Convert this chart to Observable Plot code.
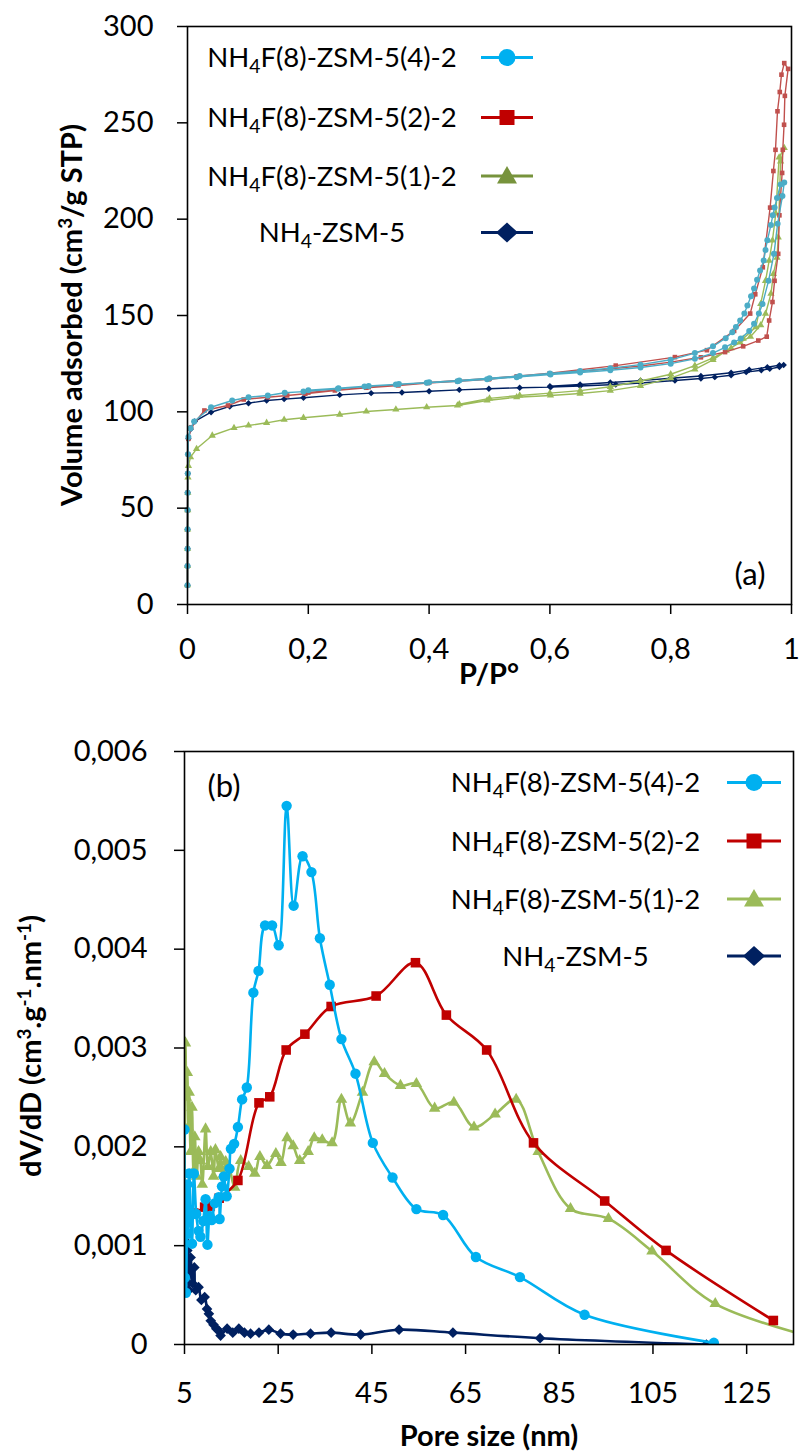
<!DOCTYPE html>
<html>
<head>
<meta charset="utf-8">
<script src="https://cdn.jsdelivr.net/npm/d3@7"></script>
<script src="https://cdn.jsdelivr.net/npm/@observablehq/plot@0.6"></script>
<style>
  body { margin: 0; background: #fff; }
  #page { position: relative; width: 802px; height: 1456px; background: #fff; overflow: hidden; }
  #page > svg { position: absolute; left: 0; }
</style>
</head>
<body>
<div id="page"></div>
<script>
// ---------- (a) N2 isotherms: relative pressure P/P° and volume adsorbed (cm3/g STP) ----------
// each list runs along the adsorption branch, then back along the desorption branch
const isoP_s4 = [0, 0, 0.0001, 0.0001, 0.0002, 0.0003, 0.0005, 0.0008, 0.0015, 0.005, 0.011, 0.039, 0.074, 0.101, 0.133, 0.161, 0.192, 0.249, 0.293, 0.345, 0.396, 0.447, 0.496, 0.545, 0.601, 0.65, 0.70, 0.75, 0.80, 0.84, 0.87, 0.89, 0.905, 0.916, 0.93, 0.938, 0.946, 0.952, 0.962, 0.971, 0.977, 0.985, 0.988,
  0.982, 0.976, 0.972, 0.969, 0.966, 0.960, 0.957, 0.954, 0.948, 0.943, 0.938, 0.933, 0.927, 0.922, 0.915, 0.908, 0.902, 0.891, 0.87, 0.84, 0.80, 0.75, 0.70, 0.65, 0.60, 0.55, 0.50, 0.45, 0.40, 0.35, 0.30, 0.25, 0.20];
const isoV_s4 = [10, 20, 29, 39, 49, 58, 68, 78, 87, 91.5, 95, 102.4, 105.9, 107.6, 108.5, 109.9, 110.5, 112, 113.1, 114.2, 115.1, 115.9, 116.9, 118, 119.4, 120.4, 121.6, 123, 125, 127.5, 130.5, 133.5, 136, 138, 142, 145.7, 151, 156, 168, 182, 197.6, 212, 219,
  218, 211, 206, 202, 197, 189, 184, 178.5, 173.4, 168.5, 164, 160, 155.2, 151, 147.4, 144, 141.3, 138.2, 134, 130.5, 127, 124.5, 122.6, 121.2, 119.9, 118.6, 117.4, 116.3, 115.3, 114.4, 113.4, 112.3, 111.2];

const isoP_s2 = [0, 0, 0.0001, 0.0001, 0.0002, 0.0003, 0.0005, 0.0008, 0.0015, 0.006, 0.028, 0.067, 0.093, 0.133, 0.165, 0.195, 0.244, 0.296, 0.349, 0.398, 0.447, 0.499, 0.545, 0.60, 0.65, 0.70, 0.75, 0.80, 0.85, 0.89, 0.92, 0.945, 0.959, 0.963, 0.9685, 0.972, 0.978, 0.980, 0.982, 0.9845, 0.9856, 0.9877, 0.989, 0.9944,
  0.988, 0.9834, 0.9806, 0.9768, 0.9735, 0.970, 0.9646, 0.9525, 0.94, 0.9316, 0.905, 0.86, 0.807, 0.709, 0.60, 0.50, 0.40, 0.30, 0.20];
const isoV_s2 = [10, 20, 29, 39, 49, 58, 68, 78, 86, 92, 100.7, 103.3, 106.4, 107.6, 108.5, 109.4, 111.1, 112.5, 113.7, 114.9, 115.9, 116.9, 118.4, 119.7, 121, 122.3, 123.8, 125.8, 128.3, 131, 134, 137, 139, 147.4, 157, 168, 182, 202, 212, 224, 236, 249, 264, 278,
  281, 275, 266, 256, 236, 225, 206, 175, 161, 151, 142, 132, 128.4, 124, 120, 117.3, 115.2, 112.8, 110];

const isoP_s1 = [0, 0, 0.0001, 0.0002, 0.0003, 0.0005, 0.0008, 0.0015, 0.005, 0.015, 0.041, 0.077, 0.101, 0.131, 0.16, 0.192, 0.252, 0.296, 0.345, 0.396, 0.447, 0.496, 0.545, 0.601, 0.65, 0.70, 0.75, 0.80, 0.84, 0.87, 0.892, 0.915, 0.932, 0.949, 0.957, 0.966, 0.970, 0.976, 0.978, 0.980, 0.982, 0.988,
  0.9795, 0.974, 0.9685, 0.963, 0.957, 0.949, 0.941, 0.92, 0.90, 0.87, 0.84, 0.80, 0.75, 0.70, 0.65, 0.60, 0.55, 0.50, 0.45];
const isoV_s1 = [10, 20, 29, 39, 49, 58, 66, 72, 76.5, 80.8, 87.7, 91.7, 92.9, 94.3, 95.9, 96.9, 98.6, 100.2, 101.2, 102.4, 103.3, 105.9, 107.6, 108.5, 109.5, 111, 113.5, 117.5, 122, 127, 131.8, 136, 139, 145, 150.9, 161.3, 171.6, 180, 190.6, 211, 230, 237,
  232, 203, 189, 178.5, 168, 156, 144, 138, 133, 128, 124, 119.5, 116, 113, 111, 109.7, 108.5, 107, 104];

const isoP_par = [0, 0, 0.0001, 0.0001, 0.0002, 0.0003, 0.0005, 0.0008, 0.0015, 0.005, 0.012, 0.039, 0.07, 0.101, 0.131, 0.16, 0.192, 0.252, 0.304, 0.355, 0.40, 0.45, 0.499, 0.55, 0.601, 0.65, 0.709, 0.75, 0.807, 0.85, 0.873, 0.90, 0.925, 0.95, 0.964, 0.98, 0.987,
  0.98, 0.96, 0.93, 0.90, 0.85, 0.80, 0.75, 0.70, 0.65, 0.60];
const isoV_par = [10, 20, 29, 39, 49, 58, 68, 78, 86, 91, 95, 99.8, 102.8, 104.5, 105.9, 106.6, 107.3, 108.8, 109.7, 110, 110.7, 111.4, 112, 112.5, 112.8, 113.4, 114.2, 115, 116.3, 117.3, 118, 119, 120.6, 121.6, 122.3, 123.3, 124.3,
  124.2, 123.2, 121.8, 120.3, 118.6, 117.4, 116.2, 115.2, 114.2, 113.3];

// ---------- (b) pore size distributions: pore size (nm) and dV/dD ----------
const psdD_s4 = [5.0, 5.1, 5.3, 5.6, 5.8, 6.0, 6.3, 6.6, 7.0, 7.5, 8.0, 8.4, 9.0, 9.5, 9.9, 10.4, 10.8, 11.5, 12.3, 12.5, 13.0, 13.4, 14.0, 14.6, 14.9, 15.6, 16.4, 17.3, 18.3, 19.7, 20.8, 22.2, 23.7, 25.1, 26.8, 28.3, 30.2, 32.1, 33.9, 36.0, 38.5, 41.5, 45.2, 49.4, 54.5, 60.2, 67.2, 76.6, 90.4, 118.0];
const psdV_s4 = [0.002175, 0.000676, 0.000524, 0.00162, 0.00112, 0.00173, 0.00132, 0.00102, 0.00173, 0.00132, 0.00115, 0.00109, 0.00125, 0.00147, 0.00101, 0.00130, 0.00126, 0.00143, 0.00149, 0.00127, 0.00160, 0.00170, 0.00150, 0.00178, 0.00198, 0.00203, 0.00220, 0.00248, 0.00260, 0.00356, 0.00378, 0.00424, 0.00424, 0.00404, 0.00545, 0.00444, 0.00494, 0.00478, 0.00411, 0.00364, 0.00309, 0.00274, 0.00204, 0.00169, 0.00137, 0.00131, 0.000885, 0.000682, 0.000301, 0.000017];

const psdD_s2 = [5.0, 7.0, 9.3, 10.5, 12.4, 16.4, 20.9, 23.2, 26.7, 30.7, 36.3, 45.9, 54.3, 60.9, 69.5, 79.5, 94.7, 107.8, 130.7];
const psdV_s2 = [0.00142, 0.00133, 0.00139, 0.00140, 0.00148, 0.00166, 0.002445, 0.002506, 0.00298, 0.00314, 0.00342, 0.003526, 0.003863, 0.003333, 0.00298, 0.00204, 0.001452, 0.000952, 0.000243];

const psdD_s1 = [5.0, 5.2, 5.4, 5.6, 5.8, 6.0, 6.3, 6.6, 6.9, 7.2, 7.6, 8.0, 8.4, 8.8, 9.5, 10.0, 10.6, 11.2, 11.6, 12.3, 12.7, 13.3, 13.8, 14.5, 15.7, 17.0, 18.7, 20.0, 21.1, 22.6, 24.5, 25.6, 26.9, 28.2, 29.6, 31.4, 32.7, 34.4, 36.5, 38.5, 40.4, 43.0, 45.5, 47.7, 51.1, 54.5, 58.4, 62.5, 66.8, 71.3, 75.8, 80.5, 87.4, 95.5, 104.8, 118.3, 145];
const psdV_s1 = [0.00133, 0.00305, 0.00250, 0.00275, 0.00220, 0.00255, 0.00195, 0.00240, 0.00175, 0.00210, 0.00170, 0.00195, 0.00186, 0.00162, 0.00218, 0.00180, 0.00195, 0.00170, 0.00197, 0.00178, 0.00190, 0.00172, 0.00185, 0.00180, 0.00159, 0.00186, 0.00180, 0.00173, 0.00190, 0.00181, 0.00193, 0.00184, 0.00209, 0.00201, 0.00186, 0.00195, 0.00209, 0.00207, 0.00204, 0.00248, 0.00224, 0.00255, 0.00286, 0.00274, 0.00262, 0.00264, 0.00239, 0.00245, 0.00220, 0.00233, 0.00248, 0.00195, 0.001375, 0.001273, 0.000945, 0.000412, 0.0];

const psdD_par = [5.0, 5.1, 5.3, 5.6, 5.9, 6.3, 6.7, 7.1, 7.4, 8.0, 8.6, 9.3, 9.8, 10.2, 10.6, 11.2, 11.8, 12.3, 12.7, 14.1, 15.3, 16.6, 17.8, 19.1, 20.9, 23.0, 25.5, 28.2, 31.9, 36.3, 42.6, 50.8, 62.3, 80.9, 116.4];
const psdV_par = [0.00173, 0.00105, 0.00082, 0.00095, 0.00055, 0.00088, 0.00062, 0.00078, 0.00055, 0.00058, 0.00045, 0.00048, 0.00036, 0.00031, 0.00024, 0.00020, 0.00016, 0.00014, 0.00009, 0.00016, 0.00012, 0.00016, 0.00012, 0.00011, 0.00012, 0.00015, 0.00011, 0.00010, 0.00011, 0.00012, 0.00010, 0.00015, 0.00012, 0.000064, 0.0];

// ---------- labels and ticks ----------
const sampleNames = ["NH4F(8)-ZSM-5(4)-2", "NH4F(8)-ZSM-5(2)-2", "NH4F(8)-ZSM-5(1)-2", "NH4-ZSM-5"];
const xTicksA = [0, 0.2, 0.4, 0.6, 0.8, 1];
const yTicksA = [0, 50, 100, 150, 200, 250, 300];
const xTicksB = [5, 25, 45, 65, 85, 105, 125];
const yTicksB = [0, 0.001, 0.002, 0.003, 0.004, 0.005, 0.006];

// ---------- drawing ----------
const FONT = "Lato, 'Open Sans', sans-serif";
const rows = (xs, ys) => xs.map((x, i) => ({x, y: ys[i]}));
const commaA = d => String(d).replace(".", ",");
const commaB = d => d === 0 ? "0" : d.toFixed(3).replace(".", ",");

// drawing order: parent first, the (4)-2 sample on top
const isoSeries = [
  {data: rows(isoP_par, isoV_par), color: "#002060", symbol: "diamond2", r: 2.9},
  {data: rows(isoP_s1, isoV_s1), color: "#9BBB59", symbol: "triangle", r: 2.7},
  {data: rows(isoP_s2, isoV_s2), color: "#C0504D", symbol: "square", r: 2.6},
  {data: rows(isoP_s4, isoV_s4), color: "#4BACC6", symbol: "circle", r: 3.0}
];
const psdSeries = [
  {data: rows(psdD_par, psdV_par), color: "#002060", symbol: "diamond2", r: 4.8},
  {data: rows(psdD_s1, psdV_s1), color: "#9BBB59", symbol: "triangle", r: 4.3},
  {data: rows(psdD_s2, psdV_s2), color: "#C00000", symbol: "square", r: 5.4},
  {data: rows(psdD_s4, psdV_s4), color: "#00B0F0", symbol: "circle", r: 5.2}
];

const page = document.getElementById("page");

const plotA = Plot.plot({
  width: 802, height: 704,
  marginLeft: 187, marginRight: 11, marginTop: 26, marginBottom: 100,
  x: {domain: [0, 1]},
  y: {domain: [0, 300]},
  style: {fontFamily: FONT, fontSize: "29px", color: "#000", background: "transparent", overflow: "visible"},
  marks: [
    ...isoSeries.flatMap(s => [
      Plot.line(s.data, {x: "x", y: "y", stroke: s.color, strokeWidth: 1.4}),
      Plot.dot(s.data, {x: "x", y: "y", symbol: s.symbol, r: s.r, fill: s.color, stroke: "none"})
    ]),
    Plot.axisX({ticks: xTicksA, tickFormat: commaA, tickSize: 10, tickPadding: 24, strokeWidth: 1.5, label: null}),
    Plot.axisY({ticks: yTicksA, tickSize: 10, tickPadding: 24, strokeWidth: 1.5, label: null}),
    Plot.frame({stroke: "#000", strokeWidth: 1.6})
  ]
});
plotA.style.top = "0px";
page.appendChild(plotA);

const plotB = Plot.plot({
  width: 802, height: 752,
  marginLeft: 184, marginRight: 9, marginTop: 47, marginBottom: 112,
  x: {domain: [5, 135]},
  y: {domain: [0, 0.006]},
  style: {fontFamily: FONT, fontSize: "29px", color: "#000", background: "transparent", overflow: "visible"},
  marks: [
    ...psdSeries.flatMap(s => [
      Plot.line(s.data, {x: "x", y: "y", stroke: s.color, strokeWidth: 2.6, curve: "catmull-rom", clip: true}),
      Plot.dot(s.data, {x: "x", y: "y", symbol: s.symbol, r: s.r, fill: s.color, stroke: "none", clip: true})
    ]),
    Plot.axisX({ticks: xTicksB, tickSize: 10, tickPadding: 28, strokeWidth: 1.5, label: null}),
    Plot.axisY({ticks: yTicksB, tickFormat: commaB, tickSize: 10, tickPadding: 27, strokeWidth: 1.5, label: null}),
    Plot.frame({stroke: "#000", strokeWidth: 1.6})
  ]
});
plotB.style.top = "704px";
page.appendChild(plotB);

// ---------- titles, panel tags and legends ----------
const sub4 = '<tspan font-size="0.7em" dy="6">4</tspan><tspan dy="-6">';
const nameSvg = n => n.replace("NH4", "NH" + sub4) + "</tspan>";

function marker(sym, cx, cy, color) {
  if (sym === "circle") return `<circle cx="${cx}" cy="${cy}" r="8.5" fill="${color}"/>`;
  if (sym === "square") return `<rect x="${cx - 7.5}" y="${cy - 7.5}" width="15" height="15" fill="${color}"/>`;
  if (sym === "triangle") return `<polygon points="${cx},${cy - 10} ${cx + 10},${cy + 7.5} ${cx - 10},${cy + 7.5}" fill="${color}"/>`;
  return `<polygon points="${cx},${cy - 10} ${cx + 11},${cy} ${cx},${cy + 10} ${cx - 11},${cy}" fill="${color}"/>`;
}
const symbols = ["circle", "square", "triangle", "diamond"];

function legend(textX, lineX0, lineX1, rowY, colors) {
  return sampleNames.map((n, i) => {
    const y = rowY[i];
    const mx = (lineX0 + lineX1) / 2;
    return `<text x="${textX}" y="${y + 9.6}" text-anchor="middle" font-size="27.5">${nameSvg(n)}</text>` +
      `<line x1="${lineX0}" x2="${lineX1}" y1="${y}" y2="${y}" stroke="${colors[i]}" stroke-width="3"/>` +
      marker(symbols[i], mx, y, colors[i]);
  }).join("");
}

const overlay = `
<svg width="802" height="1456" style="top:0;pointer-events:none" font-family="${FONT}" fill="#000">
  ${legend(332, 481, 533, [57.5, 117.5, 176, 232.5], ["#00B0F0", "#C00000", "#77933C", "#002060"])}
  ${legend(575.5, 727, 781, [782.5, 841, 899, 956], ["#00B0F0", "#C00000", "#9BBB59", "#002060"])}
  <text x="750" y="585" text-anchor="middle" font-size="31">(a)</text>
  <text x="224" y="797" text-anchor="middle" font-size="31">(b)</text>
  <text transform="translate(74,315) rotate(-90)" dy="0.27em" text-anchor="middle" font-size="29" font-weight="bold">Volume adsorbed (cm<tspan font-size="0.65em" dy="-10">3</tspan><tspan dy="10">/g STP)</tspan></text>
  <text transform="translate(33,1046) rotate(-90)" dy="0.27em" text-anchor="middle" font-size="29" font-weight="bold">dV/dD (cm<tspan font-size="0.65em" dy="-10">3</tspan><tspan dy="10">.g</tspan><tspan font-size="0.65em" dy="-10">-1</tspan><tspan dy="10">.nm</tspan><tspan font-size="0.65em" dy="-10">-1</tspan><tspan dy="10">)</tspan></text>
  <text x="489" y="684" text-anchor="middle" font-size="29" font-weight="bold">P/P°</text>
  <text x="489" y="1446" text-anchor="middle" font-size="29" font-weight="bold">Pore size (nm)</text>
</svg>`;
page.insertAdjacentHTML("beforeend", overlay);
</script>
</body>
</html>
